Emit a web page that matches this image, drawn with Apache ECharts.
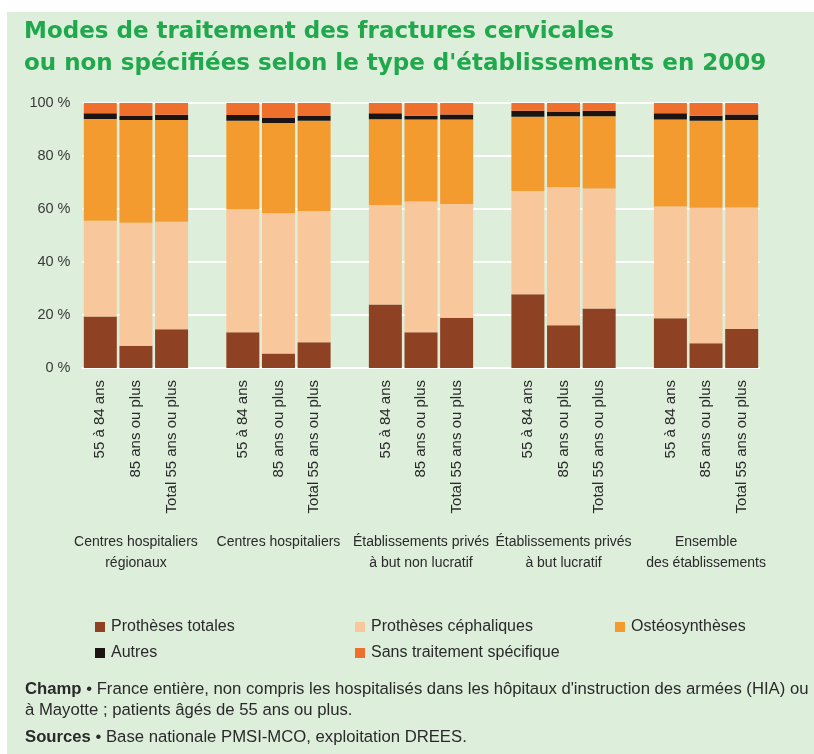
<!DOCTYPE html>
<html>
<head>
<meta charset="utf-8">
<script src="https://cdn.jsdelivr.net/npm/echarts@6/dist/echarts.min.js"></script>
<style>
  body { margin: 0; background: #ffffff; }
  #panel { position: absolute; left: 7px; top: 12px; width: 807px; height: 742px; background: #ddeedb; }
  #main { position: absolute; left: 0; top: 0; width: 814px; height: 754px; }
</style>
</head>
<body>
<div id="panel"></div>
<div id="main"></div>
<script>
// sous-catégories (âge) et groupes (type d'établissement)
var subLabels = ["55 à 84 ans", "85 ans ou plus", "Total 55 ans ou plus"];
var groups = [
  "Centres hospitaliers\nrégionaux",
  "Centres hospitaliers",
  "Établissements privés\nà but non lucratif",
  "Établissements privés\nà but lucratif",
  "Ensemble\ndes établissements"
];
var yTicks = [0, 20, 40, 60, 80, 100];

// parts en %, 15 barres (3 par groupe)
var protTotales = [19.4, 8.4, 14.6, 13.5, 5.5, 9.7, 24.0, 13.5, 19.0, 27.8, 16.1, 22.5, 18.8, 9.3, 14.7];
var protCephaliques = [36.2, 46.4, 40.6, 46.4, 52.9, 49.5, 37.5, 49.3, 42.9, 39.0, 52.1, 45.2, 42.1, 51.2, 45.9];
var osteosyntheses = [38.4, 38.8, 38.4, 33.4, 34.1, 34.1, 32.4, 31.0, 31.9, 28.0, 26.8, 27.3, 32.9, 32.8, 33.0];
var autres = [2.1, 1.5, 2.0, 2.2, 1.8, 1.8, 2.2, 1.4, 1.9, 2.3, 1.6, 2.1, 2.3, 1.9, 2.1];
var sansTraitement = [3.9, 4.9, 4.4, 4.5, 5.7, 4.9, 3.9, 4.8, 4.3, 2.9, 3.4, 2.9, 3.9, 4.8, 4.3];

var seriesNames = ["Prothèses totales", "Prothèses céphaliques", "Ostéosynthèses", "Autres", "Sans traitement spécifique"];
var colors = ["#8f4223", "#f8c89c", "#f39b2f", "#1b1412", "#ef6f2d"];

// une case vide entre chaque groupe
function withGaps(arr, empty) {
  var out = [];
  for (var g = 0; g < groups.length; g++) {
    for (var k = 0; k < 3; k++) out.push(arr[g * 3 + k]);
    if (g < groups.length - 1) out.push(empty);
  }
  return out;
}
var ageCats = [];
var groupCats = [];
for (var g = 0; g < groups.length; g++) {
  for (var k = 0; k < 3; k++) {
    ageCats.push(subLabels[k]);
    groupCats.push(k == 1 ? groups[g] : "");
  }
  if (g < groups.length - 1) { ageCats.push(""); groupCats.push(""); }
}

var values = [protTotales, protCephaliques, osteosyntheses, autres, sansTraitement];
var series = [];
for (var i = 0; i < values.length; i++) {
  series.push({
    name: seriesNames[i],
    type: "bar",
    stack: "total",
    barWidth: 33,
    itemStyle: { color: colors[i] },
    data: withGaps(values[i], "-")
  });
}

var font = "'Liberation Sans', Arial, sans-serif";
var legendPos = [[95, 617], [355, 617], [615, 617], [95, 643], [355, 643]];
var legends = [];
for (var j = 0; j < seriesNames.length; j++) {
  legends.push({
    data: [seriesNames[j]],
    left: legendPos[j][0],
    top: legendPos[j][1],
    padding: 0,
    icon: "rect",
    itemWidth: 10,
    itemHeight: 10,
    selectedMode: false,
    textStyle: { fontFamily: font, fontSize: 16, color: "#2a2a2a", lineHeight: 20, padding: [0, 0, 0, 1] }
  });
}

var myChart = echarts.init(document.getElementById("main"));
var option = {
  backgroundColor: "transparent",
  animation: false,
  title: {
    text: "Modes de traitement des fractures cervicales\nou non spécifiées selon le type d'établissements en 2009",
    left: 24,
    top: 16,
    padding: 0,
    textStyle: {
      fontFamily: "'DejaVu Sans', sans-serif",
      fontWeight: "bold",
      fontSize: 23,
      lineHeight: 32,
      color: "#20a84c"
    }
  },
  legend: legends,
  grid: { left: 82.5, right: 54.5, top: 103, bottom: 386 },
  xAxis: [
    {
      type: "category",
      data: ageCats,
      axisLine: { lineStyle: { color: "#ffffff", width: 2 } },
      axisTick: { show: false },
      axisLabel: { interval: 0, rotate: 90, margin: 12, fontFamily: font, fontSize: 15, color: "#2a2a2a" }
    },
    {
      type: "category",
      position: "bottom",
      data: groupCats,
      axisLine: { show: false },
      axisTick: { show: false },
      axisLabel: { interval: 0, margin: 164, fontFamily: font, fontSize: 14, lineHeight: 21, color: "#2a2a2a", align: "center" }
    }
  ],
  yAxis: {
    type: "value",
    min: yTicks[0],
    max: yTicks[yTicks.length - 1],
    interval: 20,
    axisLine: { show: false },
    axisTick: { show: false },
    splitLine: { lineStyle: { color: "#ffffff", width: 2 } },
    axisLabel: { margin: 12, formatter: "{value} %", fontFamily: font, fontSize: 14.5, color: "#3a3a3a" }
  },
  graphic: [
    {
      type: "text", left: 25, top: 679,
      style: {
        text: "{b|Champ} • France entière, non compris les hospitalisés dans les hôpitaux d'instruction des armées (HIA) ou\nà Mayotte ; patients âgés de 55 ans ou plus.",
        font: "16.7px " + font, fill: "#2a2a2a", lineHeight: 21,
        rich: { b: { fontWeight: "bold", fontFamily: font, fontSize: 16.7, fill: "#2a2a2a" } }
      }
    },
    {
      type: "text", left: 25, top: 727,
      style: {
        text: "{b|Sources} • Base nationale PMSI-MCO, exploitation DREES.",
        font: "16.7px " + font, fill: "#2a2a2a", lineHeight: 20,
        rich: { b: { fontWeight: "bold", fontFamily: font, fontSize: 16.7, fill: "#2a2a2a" } }
      }
    }
  ],
  series: series
};
myChart.setOption(option);
</script>
</body>
</html>
